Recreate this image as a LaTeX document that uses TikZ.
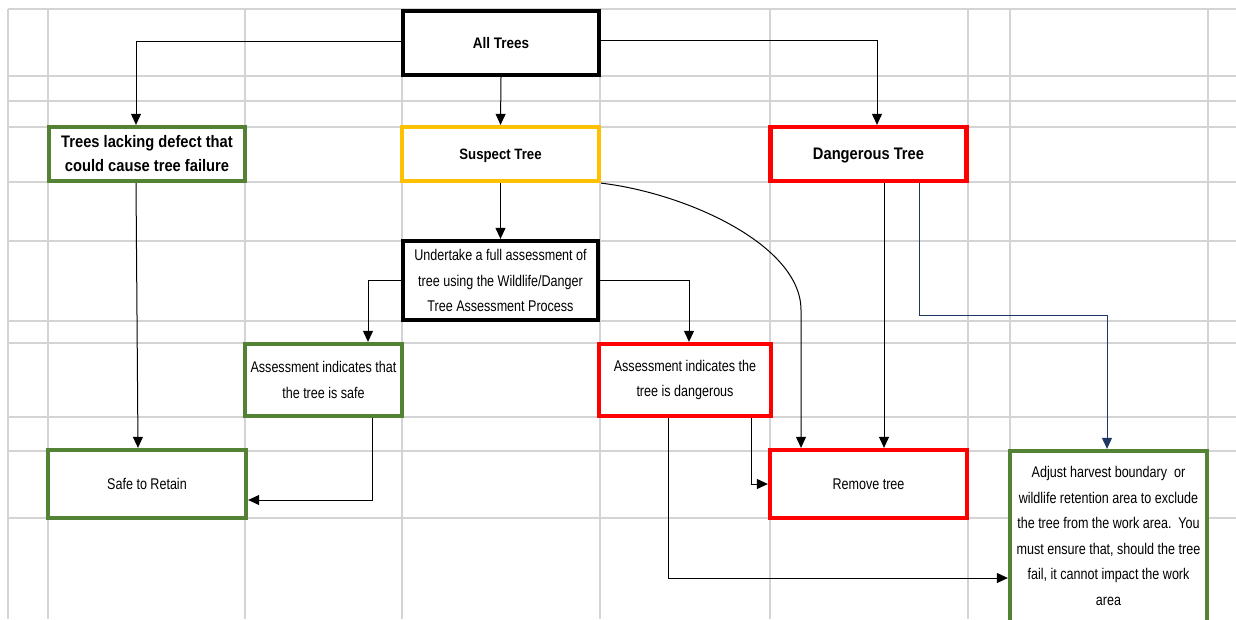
\documentclass[tikz,border=0pt]{standalone}
\usepackage{fontspec}
\setmainfont{Liberation Sans}
\newfontfamily\nar[FakeStretch=0.81]{Liberation Sans}
\newfontfamily\narb[FakeStretch=0.88]{Liberation Sans}
\usetikzlibrary{arrows.meta}
\definecolor{gridc}{HTML}{D4D4D4}
\definecolor{xgreen}{HTML}{548235}
\definecolor{xorange}{HTML}{FFC000}
\definecolor{xred}{HTML}{FF0000}
\definecolor{xnavy}{HTML}{1F3864}
\begin{document}
\begin{tikzpicture}[x=1pt,y=-1pt,
 boxbase/.style={draw, fill=white, line width=4.3pt, inner sep=0pt, align=center},
 kbox/.style={boxbase, draw=black},
 gbox/.style={boxbase, draw=xgreen},
 obox/.style={boxbase, draw=xorange},
 rbox/.style={boxbase, draw=xred},
 reg/.style={font=\nar\fontsize{15.5}{25.5}\selectfont},
 hd/.style={font=\narb\bfseries\fontsize{#1}{24}\selectfont},
 conn/.style={line width=1pt, -{Triangle[length=11pt,width=10pt]}},
 gridline/.style={draw=gridc, line width=1.5pt}]
\useasboundingbox (0,0) rectangle (1236,619);
\clip (0,0) rectangle (1236,619);
\fill[white] (0,0) rectangle (1236,619);
\foreach \x in {8,48,245,402,600,770,968,1010,1208} \draw[gridline] (\x,9) -- (\x,619);
\foreach \y in {9,76,101,127,182,241,321,343,417,451,518} \draw[gridline] (8,\y) -- (1236,\y);

\node[kbox, minimum width=196pt, minimum height=64pt, hd=15.3] (all) at (501,43) {All Trees};
\node[gbox, minimum width=196pt, minimum height=54pt, hd=16.7] (lack) at (147,154) {Trees lacking defect that\\could cause tree failure};
\node[obox, minimum width=197pt, minimum height=54pt, hd=15, text depth=0pt] (suspect) at (500.5,154) {Suspect Tree};
\node[rbox, minimum width=196pt, minimum height=54pt, hd=16.7, text depth=0pt] (danger) at (868.5,154) {Dangerous Tree};
\node[kbox, minimum width=195pt, minimum height=79pt, reg] (assess) at (500.5,280.5) {Undertake a full assessment of\\tree using the Wildlife/Danger\\Tree Assessment Process};
\node[gbox, minimum width=157pt, minimum height=72pt, reg] (safe) at (323.5,380) {Assessment indicates that\\the tree is safe};
\node[rbox, minimum width=172pt, minimum height=72pt, reg] (dang) at (685,380) {Assessment indicates the\\tree is dangerous};
\node[gbox, minimum width=198pt, minimum height=68pt, reg] (retain) at (147,484) {Safe to Retain};
\node[rbox, minimum width=197pt, minimum height=68pt, reg] (remove) at (868.5,484) {Remove tree};
\node[gbox, minimum width=197pt, minimum height=200pt] (adjust) at (1108.5,551) {};
\node[reg, align=center, inner sep=0pt] (adjtext) at (1108.5,536) {Adjust harvest boundary\ \ or\\wildlife retention area to exclude\\the tree from the work area.\ \ You\\must ensure that, should the tree\\fail, it cannot impact the work\\area};

\coordinate (bend) at (801,310);
\draw[conn] ([yshift=2pt]all.west) -| ([xshift=-11pt]lack.north);
\draw[conn] (all.south) -- (suspect.north);
\draw[conn] ([yshift=3pt]all.east) -| ([xshift=8.5pt]danger.north);
\draw[conn] ([xshift=-11pt]lack.south) -- ([xshift=-9pt]retain.north);
\draw[conn] (suspect.south) -- (assess.north);
\draw[conn] (suspect.south east) .. controls +(85,10) and +(0,-65) .. (bend) -- (bend |- remove.north);
\draw[conn] ([yshift=0.5pt]assess.west) -| ([xshift=44.5pt]safe.north);
\draw[conn] (assess.east) -| ([xshift=4pt]dang.north);
\draw[conn] ([xshift=48.5pt]safe.south) |- ([yshift=-16pt]retain.east);
\draw[conn] ([xshift=66pt]dang.south) |- (remove.west);
\draw[conn] ([xshift=-17pt]dang.south) |- ([yshift=-27pt]adjust.west);
\draw[conn] ([xshift=15.5pt]danger.south) -- ([xshift=15.5pt]remove.north);
\draw[conn, xnavy] ([xshift=50.5pt]danger.south) -- ++(0,132) -| ([xshift=-1.5pt]adjust.north);
\end{tikzpicture}
\end{document}
